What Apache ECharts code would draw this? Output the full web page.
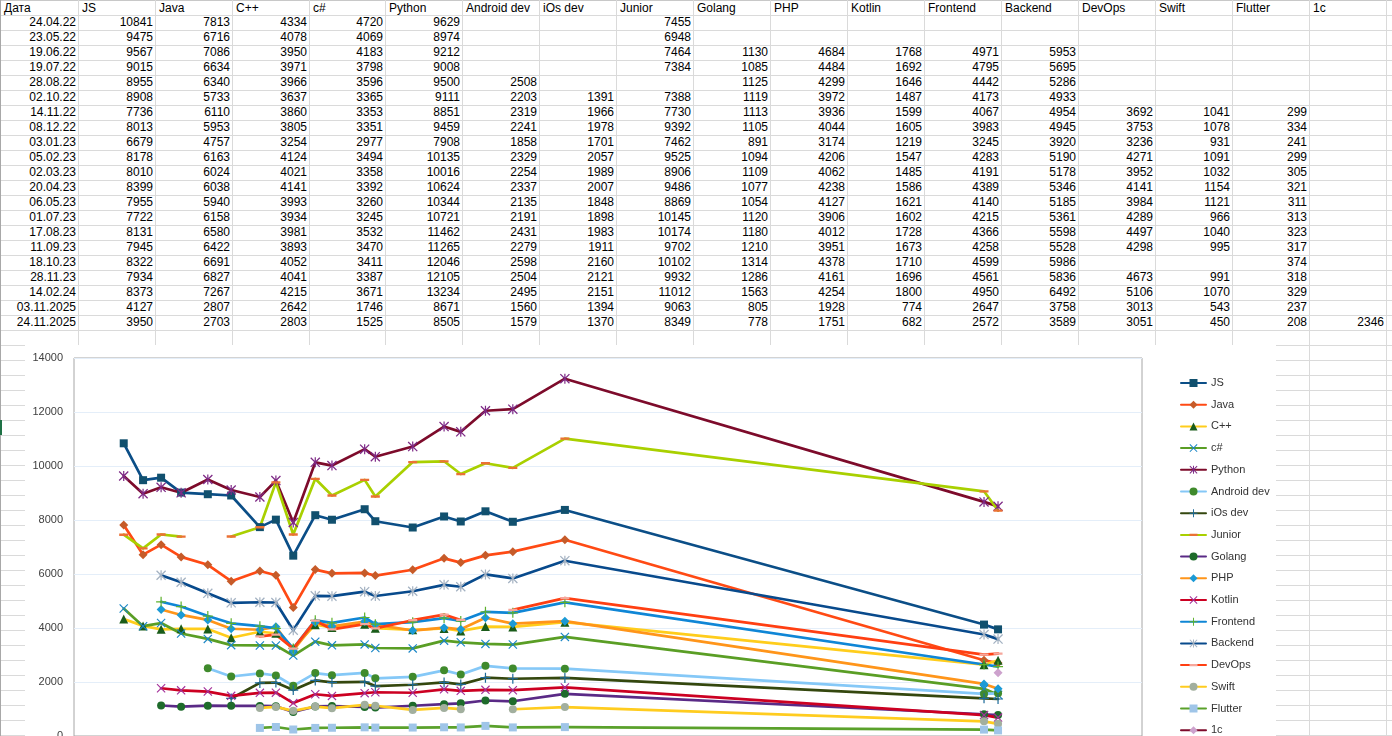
<!DOCTYPE html>
<html><head><meta charset="utf-8">
<script src="https://cdn.jsdelivr.net/npm/echarts@6/dist/echarts.min.js"></script>
<style>
html,body{margin:0;padding:0;width:1392px;height:736px;overflow:hidden;background:#fff;font-family:"Liberation Sans",Arial,sans-serif;}
#sheet{position:absolute;left:0;top:0;width:1392px;height:736px;}
.h{position:absolute;left:0;width:1392px;height:1px;background:#dadada;}
.v{position:absolute;top:0;height:736px;width:1px;background:#dadada;}
.c{position:absolute;height:15px;line-height:15px;font-size:12px;color:#000;white-space:nowrap;overflow:hidden;box-sizing:border-box;}
.r{text-align:right;padding-right:2px;}
.l{text-align:left;padding-left:3px;}
#chart{position:absolute;left:25px;top:345px;width:1251px;height:455px;background:#fff;}
</style></head><body>
<div id="sheet"></div>
<div id="chart"></div>
<script>
// ---------- DATA ----------
const dates = ['24.04.22','23.05.22','19.06.22','19.07.22','28.08.22','02.10.22','14.11.22','08.12.22','03.01.23','05.02.23','02.03.23','20.04.23','06.05.23','01.07.23','17.08.23','11.09.23','18.10.23','28.11.23','14.02.24','03.11.2025','24.11.2025'];
const headers = ['Дата','JS','Java','C++','c#','Python','Android dev','iOs dev','Junior','Golang','PHP','Kotlin','Frontend','Backend','DevOps','Swift','Flutter','1c'];
const JS       = [10841,9475,9567,9015,8955,8908,7736,8013,6679,8178,8010,8399,7955,7722,8131,7945,8322,7934,8373,4127,3950];
const Java     = [7813,6716,7086,6634,6340,5733,6110,5953,4757,6163,6024,6038,5940,6158,6580,6422,6691,6827,7267,2807,2703];
const Cpp      = [4334,4078,3950,3971,3966,3637,3860,3805,3254,4124,4021,4141,3993,3934,3981,3893,4052,4041,4215,2642,2803];
const CSharp   = [4720,4069,4183,3798,3596,3365,3353,3351,2977,3494,3358,3392,3260,3245,3532,3470,3411,3387,3671,1746,1525];
const Python   = [9629,8974,9212,9008,9500,9111,8851,9459,7908,10135,10016,10624,10344,10721,11462,11265,12046,12105,13234,8671,8505];
const Android  = [null,null,null,null,2508,2203,2319,2241,1858,2329,2254,2337,2135,2191,2431,2279,2598,2504,2495,1560,1579];
const IOS      = [null,null,null,null,null,1391,1966,1978,1701,2057,1989,2007,1848,1898,1983,1911,2160,2121,2151,1394,1370];
const Junior   = [7455,6948,7464,7384,null,7388,7730,9392,7462,9525,8906,9486,8869,10145,10174,9702,10102,9932,11012,9063,8349];
const Golang   = [null,null,1130,1085,1125,1119,1113,1105,891,1094,1109,1077,1054,1120,1180,1210,1314,1286,1563,805,778];
const PHP      = [null,null,4684,4484,4299,3972,3936,4044,3174,4206,4062,4238,4127,3906,4012,3951,4378,4161,4254,1928,1751];
const Kotlin   = [null,null,1768,1692,1646,1487,1599,1605,1219,1547,1485,1586,1621,1602,1728,1673,1710,1696,1800,774,682];
const Frontend = [null,null,4971,4795,4442,4173,4067,3983,3245,4283,4191,4389,4140,4215,4366,4258,4599,4561,4950,2647,2572];
const Backend  = [null,null,5953,5695,5286,4933,4954,4945,3920,5190,5178,5346,5185,5361,5598,5528,5986,5836,6492,3758,3589];
const DevOps   = [null,null,null,null,null,null,3692,3753,3236,4271,3952,4141,3984,4289,4497,4298,null,4673,5106,3013,3051];
const Swift    = [null,null,null,null,null,null,1041,1078,931,1091,1032,1154,1121,966,1040,995,null,991,1070,543,450];
const Flutter  = [null,null,null,null,null,null,299,334,241,299,305,321,311,313,323,317,374,318,329,237,208];
const OneC     = [null,null,null,null,null,null,null,null,null,null,null,null,null,null,null,null,null,null,null,null,2346];
const seriesNames  = headers.slice(1);
const seriesValues = [JS,Java,Cpp,CSharp,Python,Android,IOS,Junior,Golang,PHP,Kotlin,Frontend,Backend,DevOps,Swift,Flutter,OneC];
const yTicks = [0,2000,4000,6000,8000,10000,12000,14000];

// ---------- SPREADSHEET ----------
const sheet = document.getElementById('sheet');
const colX = []; for (let c = 0; c <= 19; c++) colX.push(c === 0 ? 0 : Math.round(0.7 + 76.96 * c));
let html = '';
for (let r = 0; r <= 50; r++) html += `<div class="h" style="top:${15*r}px;${r===0?'background:#c8c8c8':''}"></div>`;
for (let c = 0; c <= 19; c++) html += `<div class="v" style="left:${colX[c]}px;${c===0?'background:#a8a8a8':''}"></div>`;
html += `<div style="position:absolute;left:0;top:420px;width:2px;height:15px;background:#1e7145"></div>`;
headers.forEach((h, c) => {
  html += `<div class="c l" style="left:${colX[c]+1}px;top:1px;width:${colX[c+1]-colX[c]-1}px">${h}</div>`;
});
dates.forEach((d, r) => {
  const top = 15 * (r + 1);
  html += `<div class="c r" style="left:${colX[0]+1}px;top:${top}px;width:${colX[1]-colX[0]-1}px">${d}</div>`;
  seriesValues.forEach((arr, i) => {
    const c = i + 1;
    if (arr[r] != null) html += `<div class="c r" style="left:${colX[c]+1}px;top:${top}px;width:${colX[c+1]-colX[c]-1}px">${arr[r]}</div>`;
  });
});
sheet.innerHTML = html;

// ---------- CHART ----------
function parseDate(s) {
  const p = s.split('.');
  let y = +p[2]; if (y < 100) y += 2000;
  return Date.UTC(y, +p[1] - 1, +p[0]);
}
const ts = dates.map(parseDate);
const DAY = 86400000;
const xMin = ts[0] - 74.5 * DAY;
const xMax = xMin + 1600.2 * DAY;

const P_X = 'path://M0,0.9L0.9,0L10,9.1L9.1,10Z M9.1,0L10,0.9L0.9,10L0,9.1Z';
const P_AST = 'path://M0,0.9L0.9,0L10,9.1L9.1,10Z M9.1,0L10,0.9L0.9,10L0,9.1Z M4.4,0H5.6V10H4.4Z';
const P_PLUS = 'path://M4.4,0H5.6V10H4.4Z M0,4.4H10V5.6H0Z';
const P_DASH = 'path://M0,0L0.01,0L0,0.01Z M10,10L9.99,10L10,9.99Z M0,3.7H10V6.3H0Z';

const styles = [
  {line:'#0b4e87', mark:'#11506e', sym:'rect', size:8},
  {line:'#ff4a14', mark:'#c65b29', sym:'diamond', size:9},
  {line:'#ffcd1c', mark:'#1a5c1a', sym:'triangle', size:9},
  {line:'#5a9e25', mark:'#1a86c6', sym:P_X, size:9},
  {line:'#7d0b2b', mark:'#7e2a86', sym:P_AST, size:10},
  {line:'#85c8f7', mark:'#3f8a2c', sym:'circle', size:8},
  {line:'#34470e', mark:'#1c6a99', sym:P_PLUS, size:10},
  {line:'#a9d000', mark:'#eb7135', sym:P_DASH, size:9},
  {line:'#5a2a86', mark:'#1e6b2b', sym:'circle', size:8},
  {line:'#ff951a', mark:'#1b9ad6', sym:'diamond', size:9},
  {line:'#cc0022', mark:'#a3309a', sym:P_X, size:9},
  {line:'#0f86d6', mark:'#5eb12c', sym:P_PLUS, size:10},
  {line:'#084a8c', mark:'#a4b2c2', sym:P_AST, size:10},
  {line:'#ff3f12', mark:'#f6a79c', sym:P_DASH, size:9},
  {line:'#ffcc1f', mark:'#a2af9e', sym:'circle', size:8},
  {line:'#5aa12b', mark:'#9fc5e8', sym:'rect', size:8},
  {line:'#7d0b2b', mark:'#cda2cd', sym:'diamond', size:9}
];

const chart = echarts.init(document.getElementById('chart'), null, {renderer:'canvas'});
chart.setOption({
  animation: false,
  backgroundColor: '#fff',
  grid: {left:49, top:13, width:1068, height:378, show:true, borderColor:'#a6a6a6', borderWidth:1, backgroundColor:'transparent', containLabel:false},
  xAxis: {type:'time', min:xMin, max:xMax, axisLine:{show:false}, axisTick:{show:false}, axisLabel:{show:false}, splitLine:{show:false}},
  yAxis: {type:'value', min:yTicks[0], max:yTicks[yTicks.length-1], interval:2000,
    axisLine:{show:false}, axisTick:{show:false},
    axisLabel:{color:'#404040', fontSize:11, fontFamily:'Liberation Sans', margin:11, formatter: v => String(v)},
    splitLine:{show:true, lineStyle:{color:'#e4eef9', width:1}}},
  legend: {orient:'vertical', left:1155, top:32, itemWidth:25, itemHeight:10, itemGap:9.7, padding:0,
    selectedMode:false, data:seriesNames,
    textStyle:{fontSize:11, color:'#333333', fontFamily:'Liberation Sans', lineHeight:12}},
  series: seriesNames.map((n, i) => ({
    name: n, type: 'line',
    data: ts.map((t, j) => [t, seriesValues[i][j] == null ? '-' : seriesValues[i][j]]),
    symbol: styles[i].sym, symbolSize: styles[i].size, showSymbol: true, showAllSymbol: true,
    connectNulls: false,
    lineStyle: {color: styles[i].line, width: 2.7, join: 'round', cap: 'round'},
    itemStyle: {color: styles[i].mark, borderWidth: 0},
    emphasis: {disabled: true}
  }))
});
</script>
</body></html>
